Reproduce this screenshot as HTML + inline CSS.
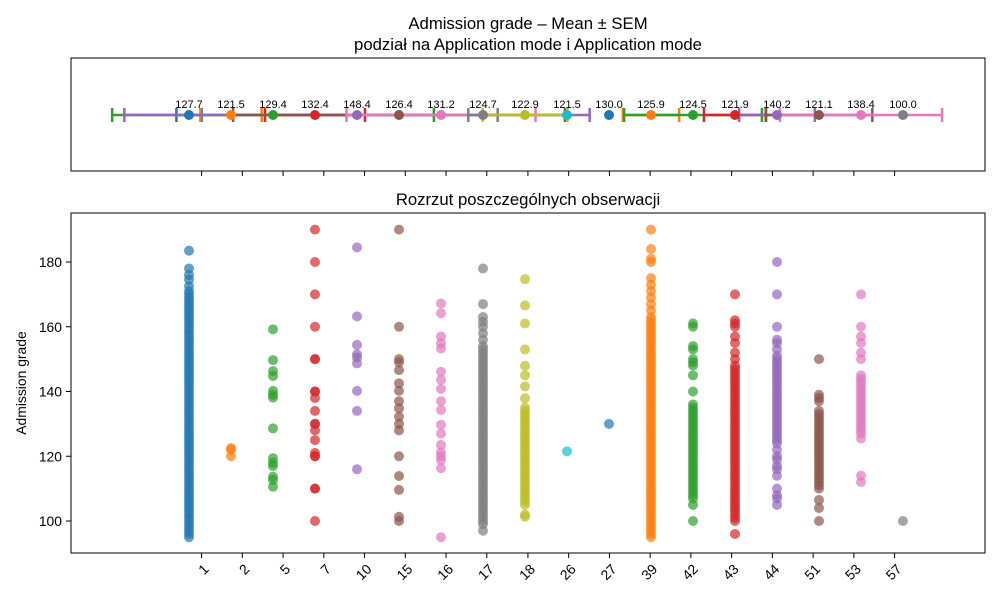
<!DOCTYPE html>
<html><head><meta charset="utf-8"><style>
body{margin:0;background:#fff}
svg{display:block;font-family:"Liberation Sans","DejaVu Sans",sans-serif}
</style></head><body>
<svg id="chart" width="1000" height="600" viewBox="0 0 1000 600">
<text x="528" y="29" text-anchor="middle" font-size="16.7">Admission grade – Mean ± SEM</text>
<text x="528" y="50" text-anchor="middle" font-size="16.7">podział na Application mode i Application mode</text>
<text x="528" y="205" text-anchor="middle" font-size="16.7">Rozrzut poszczególnych obserwacji</text>
<text transform="translate(26,383) rotate(-90)" text-anchor="middle" font-size="13.9">Admission grade</text>
<g id="topPanel"></g>
<g id="botPanel"></g>
<rect x="71" y="58" width="914" height="113" fill="none" stroke="#000" stroke-width="1"/>
<rect x="71" y="213" width="914" height="340" fill="none" stroke="#000" stroke-width="1"/>
</svg>
<script>
const categories=["1","2","5","7","10","15","16","17","18","26","27","39","42","43","44","51","53","57"];
const means=[127.7,121.5,129.4,132.4,148.4,126.4,131.2,124.7,122.9,121.5,130.0,125.9,124.5,121.9,140.2,121.1,138.4,100.0];
const errHalf=[0.30,0.73,3.83,1.19,5.54,3.95,2.25,0.35,1.01,0,0,0.67,1.64,0.74,0.90,1.27,1.93,0];
const tickPos=[0.30,1.27,2.24,3.21,4.18,5.15,6.12,7.09,8.07,9.04,10.01,10.98,11.95,12.92,13.89,14.86,15.83,16.80];
const yTicks=[100,120,140,160,180];
const v1=[95,96,97,98,99,100,101,102,103,104,105,106,107,108,109,110,111,112,113,114,115,116,117,118,119,120,121,122,123,124,125,126,127,128,129,130,131,132,133,134,135,136,137,138,139,140,141,142,143,144,145,146,147,148,149,150,151,152,153,154,155,156,157,158,159,160,161,162,163,164,165,166,167,168,169,170,171,172.5,174.5,176,178,183.5];
const v2=[120,122,122.5];
const v5=[159.2,149.7,146.3,144.8,140.2,139,138.1,128.6,119.4,118,117,113.7,112.7,110.6];
const v7=[190,180,170,160,150,150,140,140,138,134,130,130,128,125,121,120,120,110,110,100];
const v10=[184.5,163.2,154.4,151.5,150.5,148.7,140.2,134,116];
const v15=[190,160,150,149,146.6,142.5,140.2,137,134.8,132.2,130,128,120,113.9,109.6,101.3,100];
const v16=[167.2,164.2,157,154.9,153.3,146.1,143.6,140.8,137,134.3,129.7,127,123.5,121.2,120,118.8,116.3,95];
const v17=[97,99,100,101,102,103,104,105,106,107,108,109,110,111,112,113,114,115,116,117,118,119,120,121,122,123,124,125,126,127,128,129,130,131,132,133,134,135,136,137,138,139,140,141,142,143,144,145,146,147,148,149,150,151,152,153,154,156,158,160,161.5,163,167,178];
const v18=[174.7,166.6,161,153,147.9,145,141.6,137.9,135,134,133,132,131,130,129,128,127,126,125,124,123,122,121,120,119,118,117,116,115,114,113,112,111,110,109,108,107,106,105,102,101.3];
const v26=[121.5];
const v27=[130];
const v39=[95,96,97,98,99,100,101,102,103,104,105,106,107,108,109,110,111,112,113,114,115,116,117,118,119,120,121,122,123,124,125,126,127,128,129,130,131,132,133,134,135,136,137,138,139,140,141,142,143,144,145,146,147,148,149,150,151,152,153,154,155,156,157,158,159,160,161,162,163,165,167,169,171,173,175,180,181,184,190];
const v42=[100,105,107,108,109,110,111,112,113,114,115,116,117,118,119,120,121,122,123,124,125,126,127,128,129,130,131,132,133,134,135,136,140,145,148,149,150,153,154,160,161];
const v43=[96,100,101,102,103,104,105,106,107,108,109,110,111,112,113,114,115,116,117,118,119,120,121,122,123,124,125,126,127,128,129,130,131,132,133,134,135,136,137,138,139,140,141,142,143,144,145,146,147,148,150,152,155,157,160,161,162,170];
const v44=[105,107,108,110,114,116,117,119,120,122,124,125,126,127,128,129,130,131,132,133,134,135,136,137,138,139,140,141,142,143,144,145,146,147,148,149,150,151,153,155,156,160,170,180];
const v51=[100,104,106.5,110,111,112,113,114,115,116,117,118,119,120,121,122,123,124,125,126,127,128,129,130,131,132,133,134,137,138,139,150];
const v53=[112,114,125.5,127,128,129,130,131,132,133,134,135,136,137,138,139,140,141,142,143,144,145,150,152,155,157,160,170];
const v57=[100];
const values=[v1,v2,v5,v7,v10,v15,v16,v17,v18,v26,v27,v39,v42,v43,v44,v51,v53,v57];
const colors=["#1f77b4","#ff7f0e","#2ca02c","#d62728","#9467bd","#8c564b","#e377c2","#7f7f7f","#bcbd22","#17becf"];
const NS="http://www.w3.org/2000/svg";
function xS(v){return 189+42*v;}
function yS(v){return 521-(v-100)*3.2375;}
function mk(tag,attrs,parent){const e=document.createElementNS(NS,tag);for(const k in attrs)e.setAttribute(k,attrs[k]);parent.appendChild(e);return e;}
const topG=document.getElementById('topPanel'),botG=document.getElementById('botPanel');
const TY=115;
categories.forEach((c,i)=>{
  const col=colors[i%10];
  if(errHalf[i]>0){
    const x0=xS(i-errHalf[i]),x1=xS(i+errHalf[i]);
    const ln=mk('line',{x1:x0,x2:x1,y1:TY,y2:TY,stroke:col,'stroke-width':2.5},topG);
    
    
    [x0,x1].forEach(xx=>{const cp=mk('line',{x1:xx,x2:xx,y1:TY-7,y2:TY+7,stroke:col,'stroke-width':2.5},topG);
      
      });
  }
});
categories.forEach((c,i)=>{
  const col=colors[i%10],x=xS(i);
  const p=mk('circle',{cx:x,cy:TY,r:5,fill:col},topG);
  
  
  const t=mk('text',{x:x,y:TY-7,'text-anchor':'middle','font-size':11},topG);
  t.textContent=means[i].toFixed(1);
  
  
});
tickPos.forEach((tp,i)=>{
  const x=xS(tp);
  const a=mk('line',{x1:x,x2:x,y1:171,y2:176,stroke:'#000'},topG);
  
  
  const b=mk('line',{x1:x,x2:x,y1:553,y2:558,stroke:'#000'},botG);
  
  
  const t=mk('text',{'text-anchor':'end','font-size':13.9,transform:`translate(${x+8},${570}) rotate(-45)`},botG);
  t.textContent=categories[i];
  
  
});
yTicks.forEach(v=>{
  const y=yS(v);
  const a=mk('line',{x1:66,x2:71,y1:y,y2:y,stroke:'#000'},botG);
  
  
  const t=mk('text',{x:62,y:y+5,'text-anchor':'end','font-size':13.9},botG);
  t.textContent=v;
  
  
});
values.forEach((arr,i)=>{
  const col=colors[i%10];
  arr.forEach(v=>{
    const d=mk('circle',{cx:xS(i),cy:yS(v),r:5,fill:col,'fill-opacity':0.7},botG);
    
    
  });
});
</script>
</body></html>
